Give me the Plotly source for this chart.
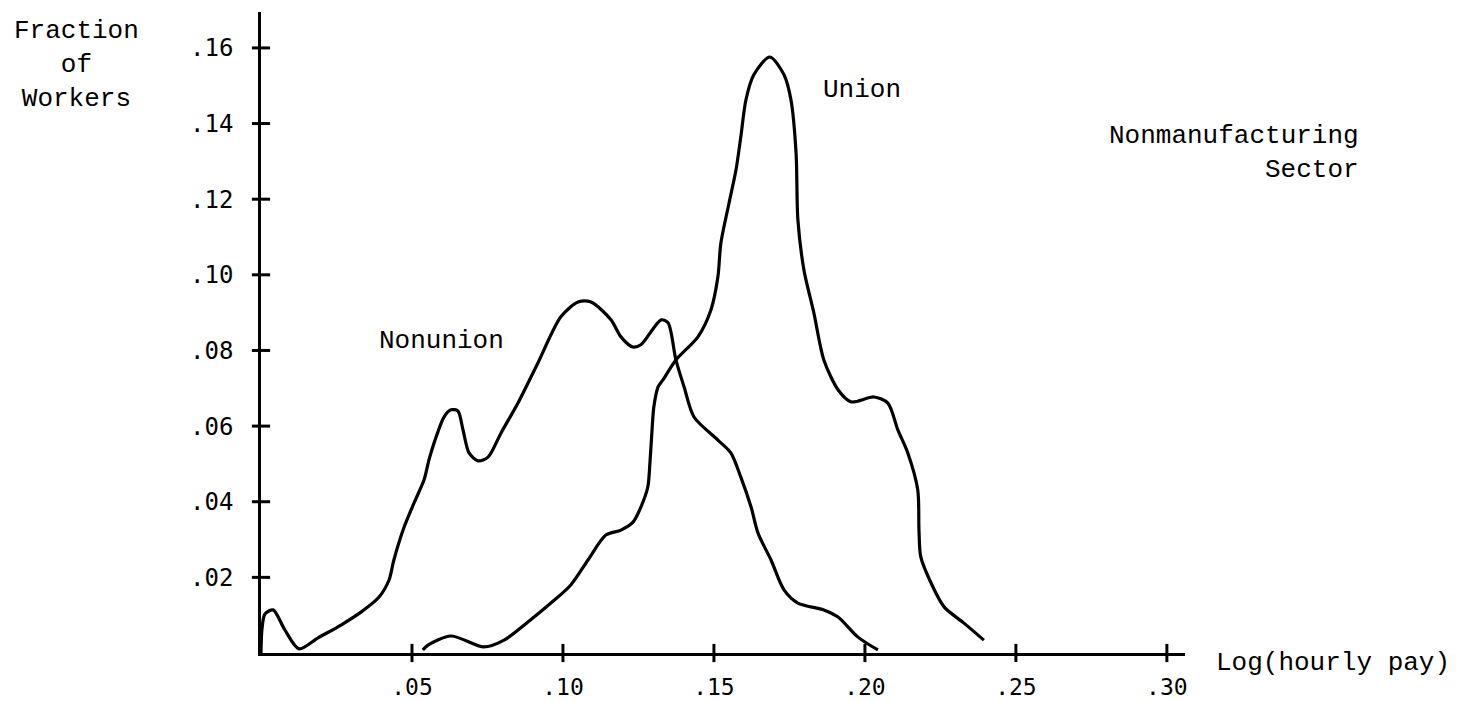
import plotly.graph_objects as go

# ---- data ----
nonunion_x = [0.0, 0.0003, 0.0013, 0.0040, 0.0079, 0.0126, 0.0189, 0.0265, 0.0331, 0.0391,
              0.0424, 0.0440, 0.0474, 0.0507, 0.0540, 0.0556, 0.0573, 0.0606, 0.0629, 0.0652,
              0.0669, 0.0689, 0.0719, 0.0752, 0.0795, 0.0851, 0.0917, 0.0993, 0.1050, 0.1093,
              0.1159, 0.1192, 0.1232, 0.1258, 0.1325, 0.1348, 0.1374, 0.1401, 0.1434, 0.1513,
              0.1556, 0.1589, 0.1623, 0.1646, 0.1689, 0.1732, 0.1778, 0.1864, 0.1911, 0.1977,
              0.2043]
nonunion_y = [0.0, 0.0061, 0.0103, 0.0114, 0.0061, 0.0011, 0.0040, 0.0074, 0.0108, 0.0148,
              0.0193, 0.0246, 0.0333, 0.0397, 0.0458, 0.0510, 0.0555, 0.0624, 0.0643, 0.0640,
              0.0590, 0.0529, 0.0508, 0.0518, 0.0582, 0.0661, 0.0767, 0.0889, 0.0928, 0.0928,
              0.0881, 0.0836, 0.0809, 0.0815, 0.0881, 0.0873, 0.0775, 0.0704, 0.0624, 0.0563,
              0.0529, 0.0465, 0.0386, 0.0317, 0.0246, 0.0167, 0.0132, 0.0114, 0.0095, 0.0042,
              0.0008]

union_x = [0.0536, 0.0553, 0.0629, 0.0738, 0.0805, 0.0884, 0.0960, 0.1026, 0.1083, 0.1142,
           0.1192, 0.1232, 0.1258, 0.1281, 0.1288, 0.1295, 0.1301, 0.1315, 0.1331, 0.1374,
           0.1447, 0.1490, 0.1513, 0.1523, 0.1550, 0.1573, 0.1589, 0.1606, 0.1632, 0.1685,
           0.1732, 0.1755, 0.1772, 0.1778, 0.1798, 0.1831, 0.1864, 0.1911, 0.1954, 0.2030,
           0.2076, 0.2109, 0.2142, 0.2175, 0.2179, 0.2185, 0.2219, 0.2262, 0.2328, 0.2394]
union_y = [0.0008, 0.0021, 0.0045, 0.0016, 0.0034, 0.0082, 0.0132, 0.0180, 0.0246, 0.0312,
           0.0325, 0.0346, 0.0386, 0.0439, 0.0503, 0.0590, 0.0651, 0.0704, 0.0722, 0.0775,
           0.0836, 0.0907, 0.0994, 0.1084, 0.1190, 0.1277, 0.1365, 0.1463, 0.1529, 0.1576,
           0.1529, 0.1463, 0.1322, 0.1145, 0.1013, 0.0899, 0.0775, 0.0696, 0.0664, 0.0677,
           0.0661, 0.0590, 0.0529, 0.0431, 0.0325, 0.0254, 0.0185, 0.0122, 0.0079, 0.0034]

x_ticks = [0.05, 0.10, 0.15, 0.20, 0.25, 0.30]
x_tick_labels = [".05", ".10", ".15", ".20", ".25", ".30"]
y_ticks = [0.02, 0.04, 0.06, 0.08, 0.10, 0.12, 0.14, 0.16]
y_tick_labels = [".02", ".04", ".06", ".08", ".10", ".12", ".14", ".16"]

TEXT_FONT = dict(family="Liberation Mono, Courier New, monospace", size=26, color="black")
YTICK_FONT = dict(family="DejaVu Sans Mono, monospace", size=24, color="black")
XTICK_FONT = dict(family="DejaVu Sans Mono, monospace", size=23, color="black")

fig = go.Figure()

fig.add_trace(go.Scatter(x=nonunion_x, y=nonunion_y, mode="lines",
                         line=dict(color="black", width=3.2, shape="spline", smoothing=0.8),
                         cliponaxis=False, showlegend=False, hoverinfo="skip"))
fig.add_trace(go.Scatter(x=union_x, y=union_y, mode="lines",
                         line=dict(color="black", width=3.2, shape="spline", smoothing=0.8),
                         cliponaxis=False, showlegend=False, hoverinfo="skip"))

# cross-shaped tick marks on the axes
fig.add_trace(go.Scatter(x=x_ticks, y=[0] * len(x_ticks), mode="markers",
                         marker=dict(symbol="line-ns", size=13, line=dict(color="black", width=3)),
                         cliponaxis=False, showlegend=False, hoverinfo="skip"))
fig.add_trace(go.Scatter(x=[0] * len(y_ticks), y=y_ticks, mode="markers",
                         marker=dict(symbol="line-ew", size=13, line=dict(color="black", width=3)),
                         cliponaxis=False, showlegend=False, hoverinfo="skip"))

fig.update_layout(
    width=1462, height=702,
    margin=dict(l=253, r=285, t=4, b=57),
    paper_bgcolor="white", plot_bgcolor="white",
    xaxis=dict(range=[0, 0.306], showgrid=False, zeroline=False, automargin=False,
               showline=True, linecolor="black", linewidth=2.5,
               tickmode="array", tickvals=x_ticks, ticktext=x_tick_labels,
               ticks="", ticklabelstandoff=12, tickfont=XTICK_FONT),
    yaxis=dict(range=[0, 0.1695], showgrid=False, zeroline=False, automargin=False,
               showline=True, linecolor="black", linewidth=2.5,
               tickmode="array", tickvals=y_ticks, ticktext=y_tick_labels,
               ticks="", ticklabelstandoff=20, tickfont=YTICK_FONT),
    annotations=[
        dict(text="Fraction<br>of<br>Workers", xref="paper", yref="paper",
             x=-0.2002, y=0.917, xanchor="center", yanchor="middle",
             showarrow=False, font=TEXT_FONT, align="center"),
        dict(text="Union", xref="x", yref="y", x=0.199, y=0.1489,
             xanchor="center", yanchor="middle", showarrow=False, font=TEXT_FONT),
        dict(text="Nonunion", xref="x", yref="y", x=0.0599, y=0.0825,
             xanchor="center", yanchor="middle", showarrow=False, font=TEXT_FONT),
        dict(text="Nonmanufacturing<br>Sector", xref="paper", yref="paper", x=1.190, y=0.780,
             xanchor="right", yanchor="middle", showarrow=False, font=TEXT_FONT, align="right"),
        dict(text="Log(hourly pay)", xref="paper", yref="paper", x=1.0314, y=-0.0153,
             xanchor="left", yanchor="middle", showarrow=False, font=TEXT_FONT),
    ],
)

fig.write_html("out.html")
